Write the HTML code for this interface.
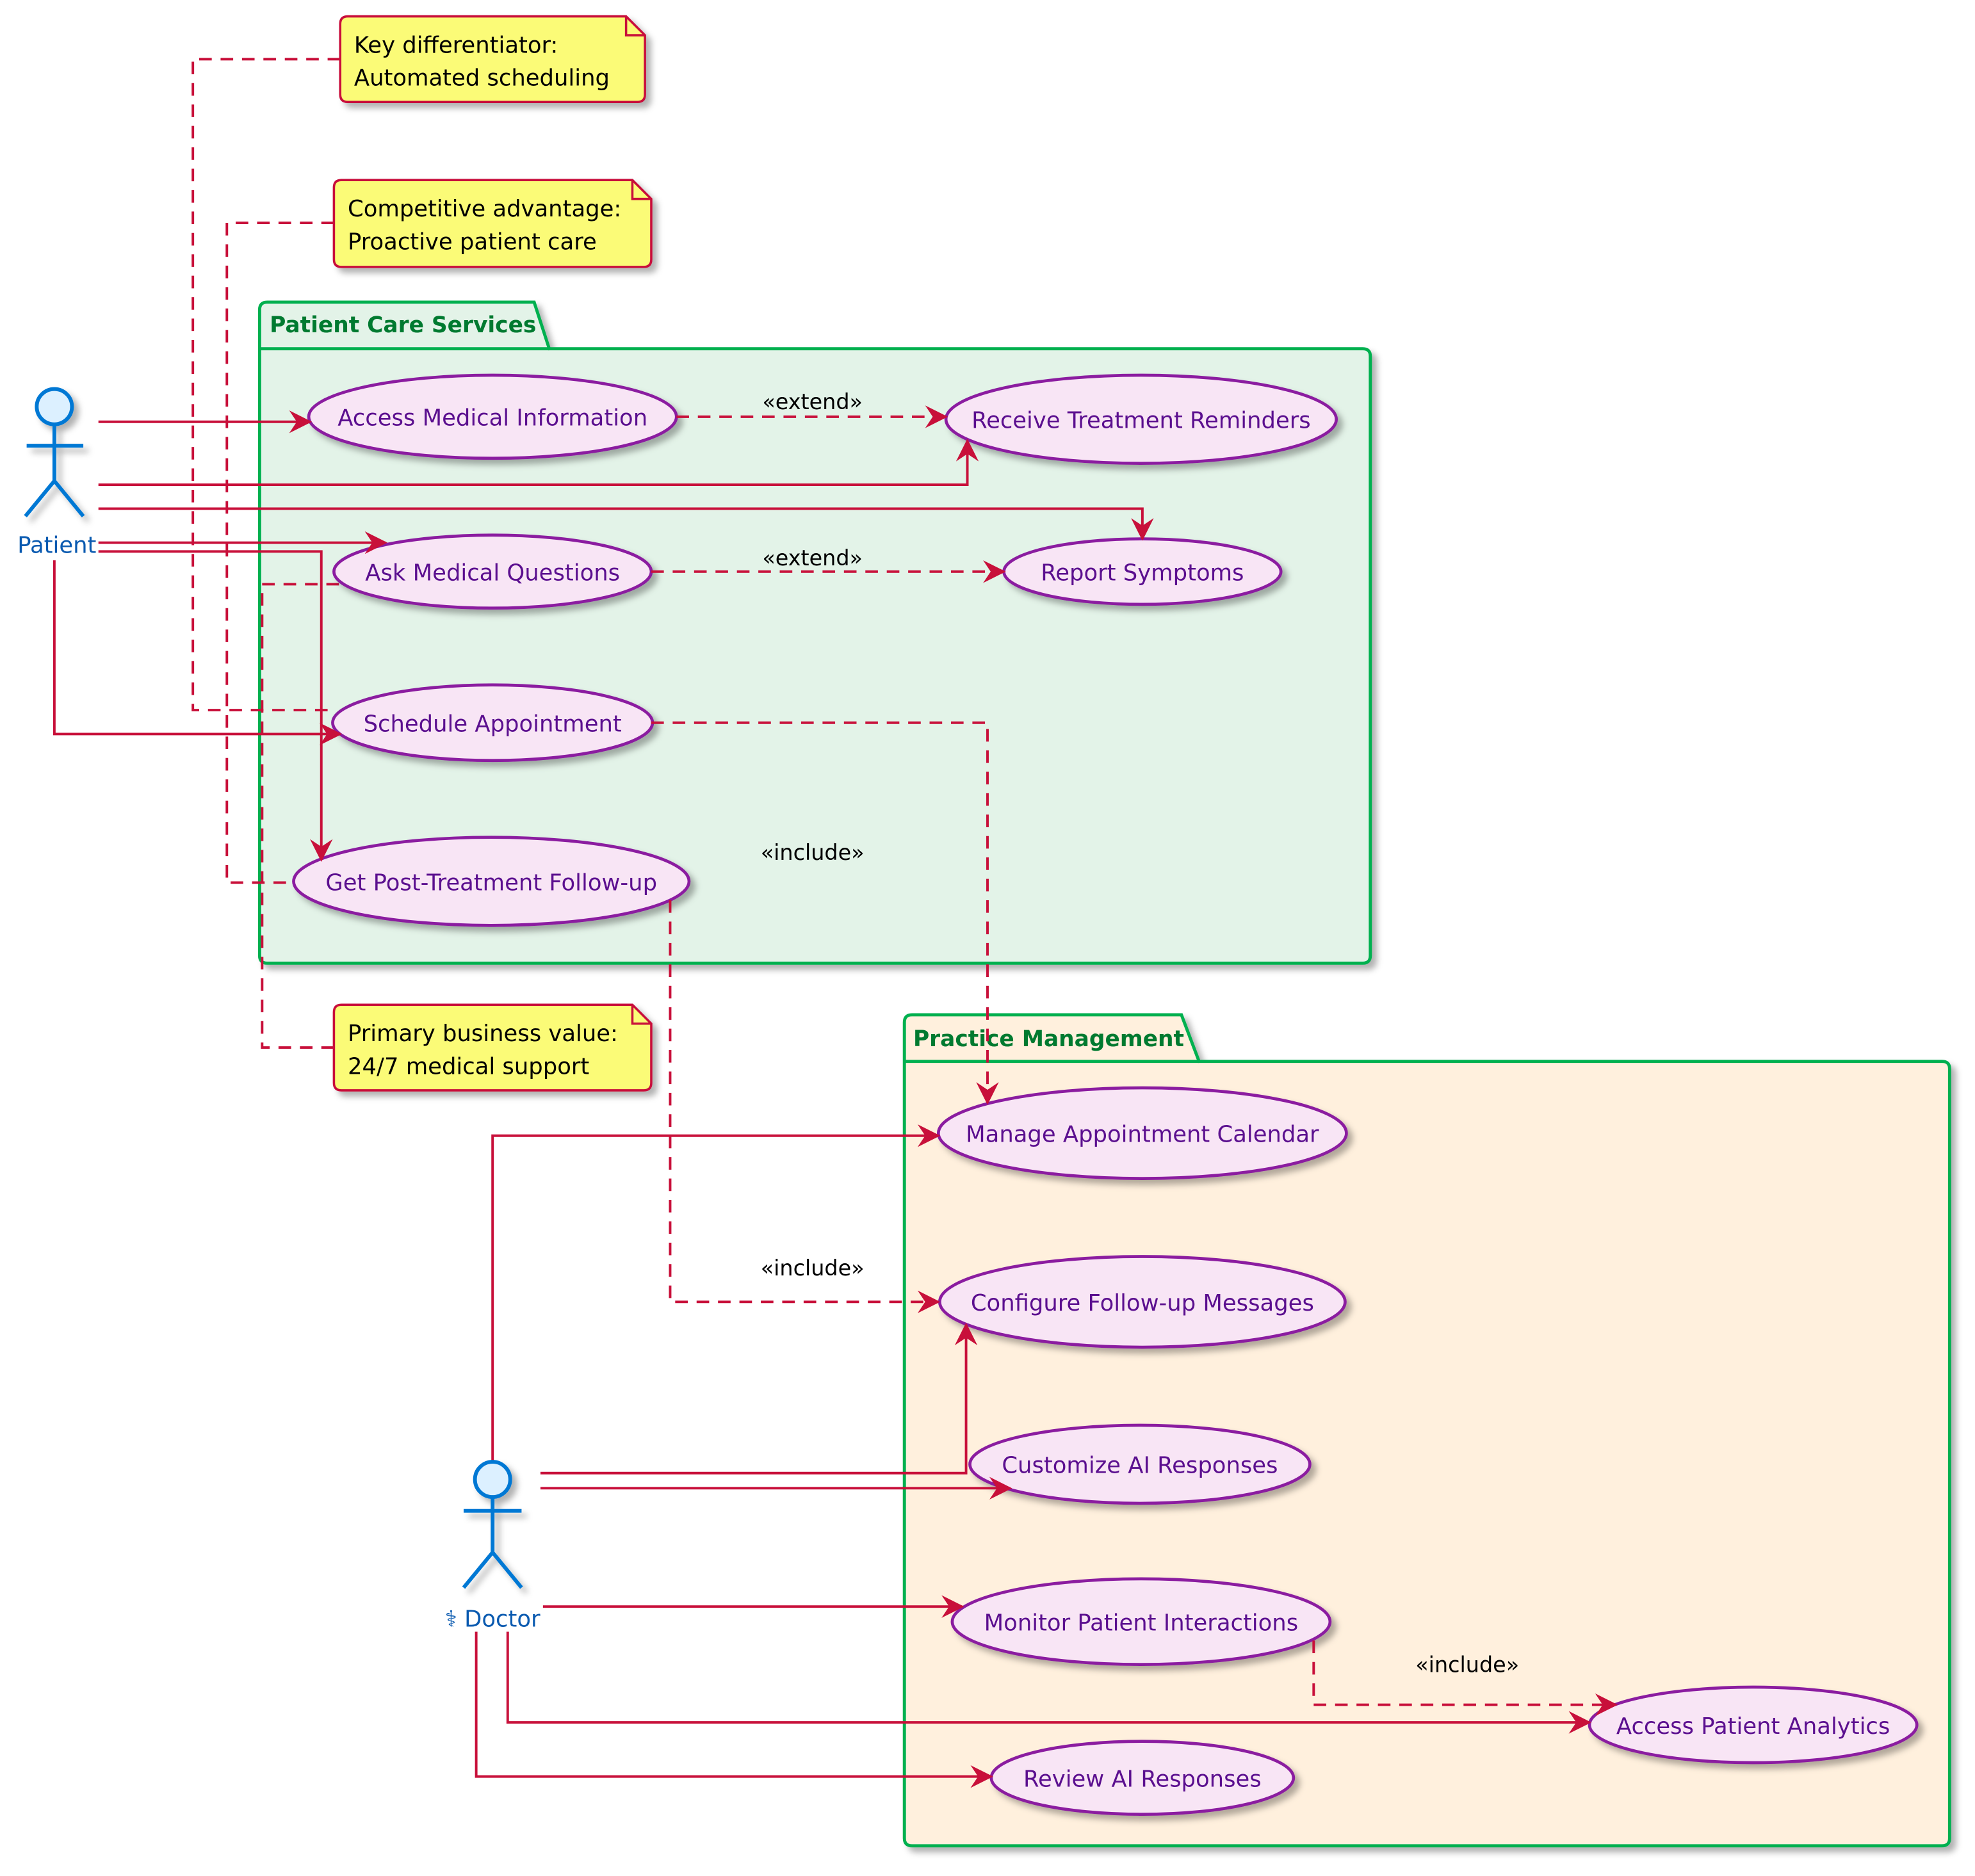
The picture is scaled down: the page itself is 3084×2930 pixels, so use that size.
<!DOCTYPE html>
<html><head><meta charset="utf-8"><style>
html,body{margin:0;padding:0;background:#fff;}
svg{display:block;}
text{font-family:"DejaVu Sans","Liberation Sans",sans-serif;}
</style></head><body>
<svg width="3084" height="2930" viewBox="0 0 1568 1490" xmlns="http://www.w3.org/2000/svg">
<defs>
<filter id="sh" x="-10%" y="-10%" width="130%" height="140%"><feDropShadow dx="4" dy="4" stdDeviation="2.5" flood-color="#000" flood-opacity="0.3"/></filter>
<marker id="ar" viewBox="0 0 12 12" refX="11" refY="6" markerWidth="18" markerHeight="18" markerUnits="userSpaceOnUse" orient="auto"><path d="M0,0 L12,6 L0,12 L4,6 Z" fill="#c8103a"/></marker>
</defs>
<rect width="1568" height="1490" fill="#fff"/>

<g filter="url(#sh)">
<path d="M206,277 L206,246 Q206,240 212,240 L424,240 L436,277 L1082,277 Q1088,277 1088,283 L1088,759 Q1088,765 1082,765 L212,765 Q206,765 206,759 Z" fill="#e3f3e8" stroke="#00b050" stroke-width="2.5"/>
</g>
<line x1="206" y1="277" x2="436" y2="277" stroke="#00b050" stroke-width="2.5"/>
<text x="214" y="264" font-size="17.5" font-weight="bold" fill="#007a30">Patient Care Services</text>

<g filter="url(#sh)">
<path d="M718,843 L718,812 Q718,806 724,806 L938,806 L952,843 L1542,843 Q1548,843 1548,849 L1548,1460 Q1548,1466 1542,1466 L724,1466 Q718,1466 718,1460 Z" fill="#fff0dd" stroke="#00b050" stroke-width="2.5"/>
</g>
<line x1="718" y1="843" x2="952" y2="843" stroke="#00b050" stroke-width="2.5"/>
<text x="725" y="831" font-size="17.5" font-weight="bold" fill="#007a30">Practice Management</text>

<g filter="url(#sh)" fill="#fbfb77" stroke="#c8103a" stroke-width="1.8">
<path d="M276,13 L497,13 L512,28 L512,75 Q512,81 506,81 L276,81 Q270,81 270,75 L270,19 Q270,13 276,13 Z"/>
<path d="M271,143 L502,143 L517,158 L517,206 Q517,212 511,212 L271,212 Q265,212 265,206 L265,149 Q265,143 271,143 Z"/>
<path d="M271,798 L502,798 L517,813 L517,860 Q517,866 511,866 L271,866 Q265,866 265,860 L265,804 Q265,798 271,798 Z"/>
</g>
<g fill="none" stroke="#c8103a" stroke-width="1.8">
<path d="M497,13 L497,28 L512,28"/><path d="M502,143 L502,158 L517,158"/><path d="M502,798 L502,813 L517,813"/>
</g>
<g font-size="18" fill="#000">
<text x="281" y="42">Key differentiator:</text><text x="281" y="68">Automated scheduling</text>
<text x="276" y="172">Competitive advantage:</text><text x="276" y="198">Proactive patient care</text>
<text x="276" y="827">Primary business value:</text><text x="276" y="853">24/7 medical support</text>
</g>

<g fill="none" stroke="#c8103a" stroke-width="2" stroke-dasharray="10,7">
<path d="M270,47 L153,47 L153,564 L265,564"/>
<path d="M265,177 L180,177 L180,701 L233,701"/>
<path d="M265,832 L208,832 L208,464 L272,464"/>
</g>

<g filter="url(#sh)" fill="#f8e5f5" stroke="#8b1fa0" stroke-width="2.4">
<ellipse cx="391" cy="331" rx="146" ry="33"/>
<ellipse cx="906" cy="333" rx="155" ry="35"/>
<ellipse cx="391" cy="454" rx="126" ry="29"/>
<ellipse cx="907" cy="454" rx="110" ry="26"/>
<ellipse cx="391" cy="574" rx="127" ry="30"/>
<ellipse cx="390" cy="700" rx="157" ry="35"/>
<ellipse cx="907" cy="900" rx="162" ry="36"/>
<ellipse cx="907" cy="1034" rx="161" ry="36"/>
<ellipse cx="905" cy="1163" rx="135" ry="31"/>
<ellipse cx="906" cy="1288" rx="150" ry="34"/>
<ellipse cx="1392" cy="1370" rx="130" ry="30"/>
<ellipse cx="907" cy="1412" rx="120" ry="29"/>
</g>
<g font-size="18" fill="#5b0f8f" text-anchor="middle">
<text x="391" y="338">Access Medical Information</text>
<text x="906" y="340">Receive Treatment Reminders</text>
<text x="391" y="461">Ask Medical Questions</text>
<text x="907" y="461">Report Symptoms</text>
<text x="391" y="581">Schedule Appointment</text>
<text x="390" y="707">Get Post-Treatment Follow-up</text>
<text x="907" y="907">Manage Appointment Calendar</text>
<text x="907" y="1041">Configure Follow-up Messages</text>
<text x="905" y="1170">Customize AI Responses</text>
<text x="906" y="1295">Monitor Patient Interactions</text>
<text x="1392" y="1377">Access Patient Analytics</text>
<text x="907" y="1419">Review AI Responses</text>
</g>

<g fill="none" stroke="#c8103a" stroke-width="2" marker-end="url(#ar)">
<path d="M78,335 L246,335"/>
<path d="M78,385 L768,385 L768,350"/>
<path d="M78,404 L907,404 L907,428"/>
<path d="M78,431 L306,431"/>
<path d="M78,438 L255,438 L255,683"/>
<path d="M43,445 L43,583 L270,583"/>
<path d="M391,1160 L391,902 L745,902"/>
<path d="M429,1170 L767,1170 L767,1052"/>
<path d="M429,1182 L802,1182"/>
<path d="M431,1276 L764,1276"/>
<path d="M403,1296 L403,1368 L1262,1368"/>
<path d="M378,1296 L378,1411 L787,1411"/>
</g>

<g fill="none" stroke="#c8103a" stroke-width="2" stroke-dasharray="10,7" marker-end="url(#ar)">
<path d="M537,331 L751,331"/>
<path d="M517,454 L797,454"/>
<path d="M517,574 L784,574 L784,876"/>
<path d="M532,715 L532,1034 L745,1034"/>
<path d="M1043,1303 L1043,1354 L1283,1354"/>
</g>
<g font-size="17" fill="#000" text-anchor="middle">
<text x="645" y="325">«extend»</text>
<text x="645" y="449">«extend»</text>
<text x="645" y="683">«include»</text>
<text x="645" y="1013">«include»</text>
<text x="1165" y="1328">«include»</text>
</g>

<g filter="url(#sh)" fill="none" stroke="#0078d4" stroke-width="3">
<circle cx="43" cy="323" r="14" fill="#dcf0ff"/>
<path d="M43,337 L43,382 M21,354 L66,354 M43,382 L20,410 M43,382 L66,410"/>
<circle cx="391" cy="1175" r="14" fill="#dcf0ff"/>
<path d="M391,1189 L391,1233 M368,1200 L414,1200 M391,1233 L368,1261 M391,1233 L414,1261"/>
</g>
<text x="45" y="439" font-size="18" fill="#0a5ab0" text-anchor="middle">Patient</text>
<text x="391" y="1292" font-size="18" fill="#0a5ab0" text-anchor="middle">⚕ Doctor</text>
</svg>
</body></html>
